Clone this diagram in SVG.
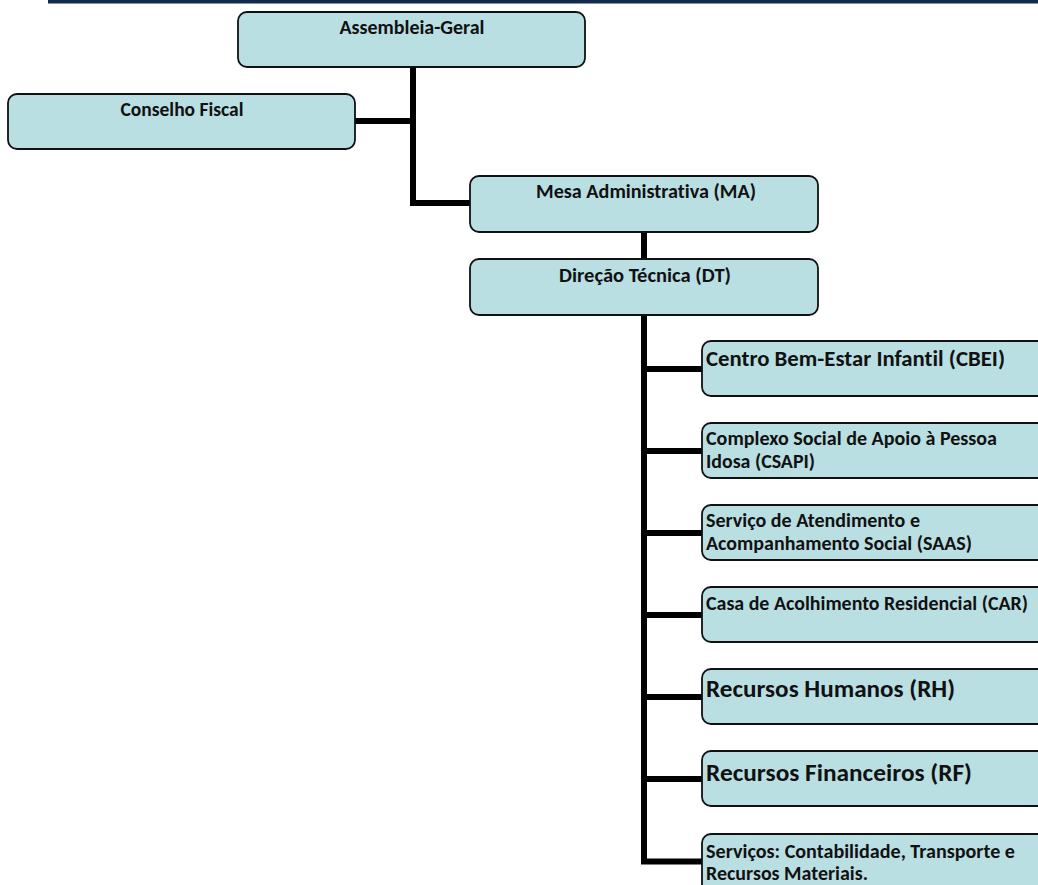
<svg xmlns="http://www.w3.org/2000/svg" width="1038" height="885" viewBox="0 0 1038 885">
<style>
.box{fill:#b9dfe3;stroke:#111;stroke-width:1.8}
.t{font-family:Carlito,"Liberation Sans",Arial,sans-serif;font-weight:bold;fill:#111;font-variant-ligatures:none;font-feature-settings:"liga" 0,"clig" 0}
.s{font-size:19.5px}
.l{font-size:22.5px}
.xl{font-size:25px}
.c{text-anchor:middle}
.con{fill:none;stroke:#000;stroke-width:6;stroke-linejoin:miter;stroke-linecap:butt}
</style>
<rect x="48" y="0" width="990" height="3.5" fill="#13294a"/>
<g id="connectors">
<path class="con" d="M413,67 V206 M355,121 H416 M413,203 H471"/>
<path class="con" d="M644,232 V260"/>
<path class="con" d="M644,315 V864"/>
<path class="con" d="M641,369 H703 M641,451 H703 M641,533 H703 M641,615 H703 M641,697 H703 M641,779 H703 M641,861.5 H703"/>
</g>
<g id="assembleia"><rect class="box" x="238" y="12" width="347" height="55" rx="9"/><text class="t s c" x="412" y="34" textLength="145" lengthAdjust="spacingAndGlyphs">Assembleia-Geral</text></g>
<g id="conselho"><rect class="box" x="8" y="94" width="347" height="55" rx="9"/><text class="t s c" x="182" y="116" textLength="123" lengthAdjust="spacingAndGlyphs">Conselho Fiscal</text></g>
<g id="mesa"><rect class="box" x="470" y="176" width="348" height="56" rx="9"/><text class="t s c" x="646" y="198" textLength="220" lengthAdjust="spacingAndGlyphs">Mesa Administrativa (MA)</text></g>
<g id="dt"><rect class="box" x="470" y="259" width="348" height="56" rx="9"/><text class="t s c" x="645" y="282" textLength="172" lengthAdjust="spacingAndGlyphs">Direção Técnica (DT)</text></g>
<g id="cbei"><rect class="box" x="702" y="341" width="350" height="55" rx="9"/><text class="t l" x="706" y="366" textLength="299" lengthAdjust="spacingAndGlyphs">Centro Bem-Estar Infantil (CBEI)</text></g>
<g id="csapi"><rect class="box" x="702" y="423" width="350" height="55" rx="9"/><text class="t s" x="706" y="445" textLength="291" lengthAdjust="spacingAndGlyphs">Complexo Social de Apoio à Pessoa</text><text class="t s" x="706" y="468" textLength="109" lengthAdjust="spacingAndGlyphs">Idosa (CSAPI)</text></g>
<g id="saas"><rect class="box" x="702" y="505" width="350" height="55" rx="9"/><text class="t s" x="706" y="527" textLength="214" lengthAdjust="spacingAndGlyphs">Serviço de Atendimento e</text><text class="t s" x="706" y="550" textLength="266" lengthAdjust="spacingAndGlyphs">Acompanhamento Social (SAAS)</text></g>
<g id="car"><rect class="box" x="702" y="587" width="350" height="55" rx="9"/><text class="t s" x="706" y="610" textLength="322" lengthAdjust="spacingAndGlyphs">Casa de Acolhimento Residencial (CAR)</text></g>
<g id="rh"><rect class="box" x="702" y="669" width="350" height="55" rx="9"/><text class="t xl" x="706" y="697" textLength="249" lengthAdjust="spacingAndGlyphs">Recursos Humanos (RH)</text></g>
<g id="rf"><rect class="box" x="702" y="751" width="350" height="55" rx="9"/><text class="t xl" x="706" y="781" textLength="266" lengthAdjust="spacingAndGlyphs">Recursos Financeiros (RF)</text></g>
<g id="servicos"><rect class="box" x="702" y="834" width="350" height="60" rx="9"/><text class="t s" x="706" y="858" textLength="309" lengthAdjust="spacingAndGlyphs">Serviços: Contabilidade, Transporte e</text><text class="t s" x="706" y="880" textLength="162" lengthAdjust="spacingAndGlyphs">Recursos Materiais.</text></g>
</svg>
